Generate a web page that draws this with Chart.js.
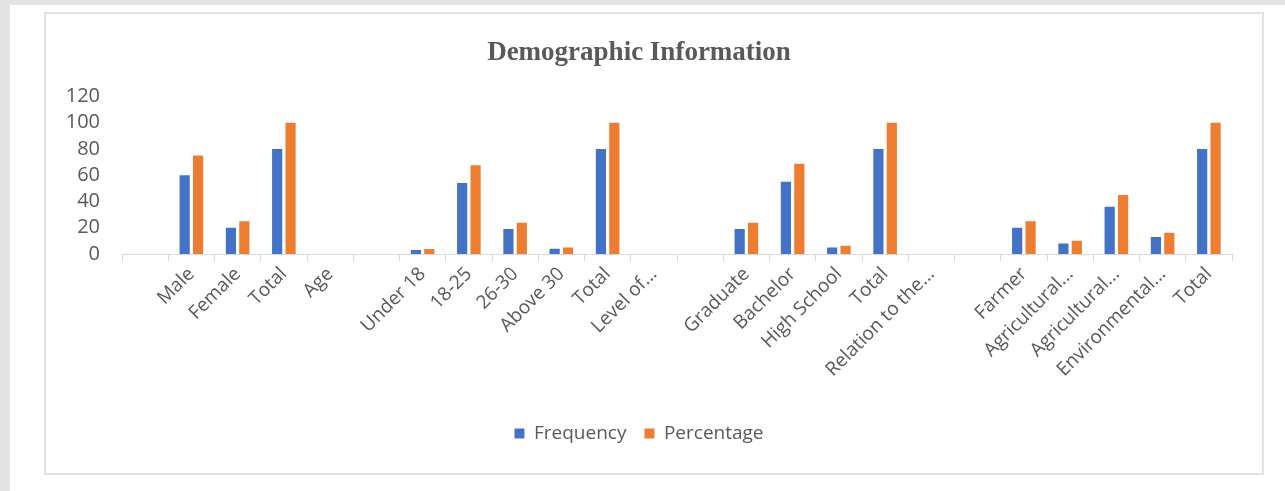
<!DOCTYPE html>
<html>
<head>
<meta charset="utf-8">
<script src="https://cdn.jsdelivr.net/npm/chart.js@4.4.1/dist/chart.umd.min.js"></script>
<style>
  html, body { margin: 0; padding: 0; background: #ffffff; }
  body { width: 1285px; height: 491px; position: relative; overflow: hidden; }
  .strip-top { position: absolute; left: 0; top: 0; width: 1285px; height: 5px; background: #e3e3e3; }
  .strip-left { position: absolute; left: 0; top: 0; width: 10px; height: 491px; background: #e3e3e3; }
  .frame { position: absolute; left: 44px; top: 12px; width: 1216px; height: 459px;
           border: 2px solid #e2e2e2; background: #ffffff; }
  .frame canvas { position: absolute; left: 0; top: 0; }
</style>
</head>
<body>
<div class="strip-top"></div>
<div class="strip-left"></div>
<div class="frame"><canvas id="c" width="1216" height="459"></canvas></div>
<script>
// Category labels (blank entries separate the groups)
const categories = [
  "", "Male", "Female", "Total", "Age", "",
  "Under 18", "18-25", "26-30", "Above 30", "Total", "Level of...", "",
  "Graduate", "Bachelor", "High School", "Total", "Relation to the...", "",
  "Farmer", "Agricultural...", "Agricultural...", "Environmental...", "Total"
];

// Respondent counts
const frequency = [
  null, 60, 20, 80, null, null,
  3, 54, 19, 4, 80, null, null,
  19, 55, 5, 80, null, null,
  20, 8, 36, 13, 80
];

// Share of respondents, %
const percentage = [
  null, 75, 25, 100, null, null,
  3.75, 67.5, 23.75, 5, 100, null, null,
  23.75, 68.75, 6.25, 100, null, null,
  25, 10, 45, 16.25, 100
];

const yTicks = [0, 20, 40, 60, 80, 100, 120];

const textGray = "#595959";
const axisGray = "#d9d9d9";

new Chart(document.getElementById("c"), {
  type: "bar",
  data: {
    labels: categories,
    datasets: [
      { label: "Frequency", data: frequency, backgroundColor: "#4472C4",
        categoryPercentage: 0.58, barPercentage: 0.76 },
      { label: "Percentage", data: percentage, backgroundColor: "#ED7D31",
        categoryPercentage: 0.58, barPercentage: 0.76 }
    ]
  },
  options: {
    responsive: false,
    animation: false,
    layout: { padding: { left: 0, right: 30, top: 0, bottom: 20 } },
    plugins: {
      title: {
        display: true,
        text: "Demographic Information",
        color: textGray,
        font: { family: "'Liberation Serif', serif", size: 27, weight: "bold" },
        padding: { top: 23, bottom: 27 }
      },
      legend: {
        position: "bottom",
        labels: {
          color: textGray,
          font: { family: "'Open Sans', sans-serif", size: 19 },
          boxWidth: 10, boxHeight: 10, padding: 18
        }
      },
      tooltip: { enabled: false }
    },
    scales: {
      x: {
        grid: { display: true, offset: true, drawOnChartArea: false, drawTicks: true,
                tickLength: 7, color: axisGray },
        border: { display: true, color: axisGray, width: 1 },
        ticks: {
          color: textGray,
          font: { family: "'Open Sans', sans-serif", size: 19 },
          minRotation: 45, maxRotation: 45, autoSkip: false, padding: 2
        },
        afterFit: (s) => { s.height = 152; }
      },
      y: {
        min: 0, max: 120,
        grid: { display: false, drawTicks: false },
        border: { display: false },
        afterBuildTicks: (s) => { s.ticks = yTicks.map(v => ({ value: v })); },
        ticks: {
          color: textGray,
          font: { family: "'Open Sans', sans-serif", size: 20 },
          padding: 22,
          autoSkip: false
        },
        afterFit: (s) => { s.width = 76; }
      }
    }
  }
});
</script>
</body>
</html>
